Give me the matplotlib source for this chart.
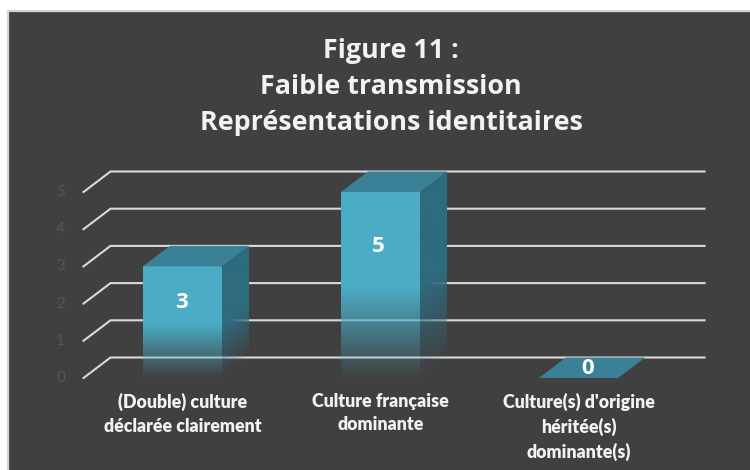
import matplotlib
matplotlib.use('Agg')
import matplotlib.pyplot as plt
import numpy as np
from matplotlib.colors import to_rgb
from matplotlib.patches import Polygon, Rectangle

categories = ["(Double) culture\ndéclarée clairement",
              "Culture française\ndominante",
              "Culture(s) d'origine\nhéritée(s)\ndominante(s)"]
values = [3, 5, 0]
yticks = [0, 1, 2, 3, 4, 5]
title_lines = ["Figure 11 :", "Faible transmission", "Représentations identitaires"]

W, H = 750, 470
BG = '#404040'
FRONT = '#4bacc6'
SIDE = '#2f6b7f'
TOP = '#3a8097'
GRID = '#d9d9d9'
bar_w = 0.4
dx = 27 / 198
dy = 20.5 / 37.2

fig = plt.figure(figsize=(W / 100, H / 100), dpi=100, facecolor='white')
fig.add_artist(Rectangle((8 / W, -0.01), 1, 1.01 - 11 / H, transform=fig.transFigure,
                         fc=BG, ec='#d4d4d4', lw=1.6, zorder=-1))

# axes also hold the depth offset, images get cut at the axes box otherwise
ax = fig.add_axes([83.5 / W, (H - 378) / H, 198 * 3.2 / W, 37.2 * 6 / H])
ax.axis('off')


def gradient_face(pts, color, fade, shear):
    # vertical fade to transparent at the base of the bar
    pts = np.array(pts, dtype=float)
    x0, x1 = pts[:, 0].min(), pts[:, 0].max()
    y0, y1 = pts[:, 1].min(), pts[:, 1].max()
    xx, yy = np.meshgrid(np.linspace(x0, x1, 60), np.linspace(y0, y1, 300))
    base = yy - shear * (xx - x0)
    img = np.zeros(xx.shape + (4,))
    img[..., :3] = to_rgb(color)
    img[..., 3] = np.clip(base / fade, 0, 1)
    im = ax.imshow(img, extent=(x0, x1, y0, y1), origin='lower', aspect='auto',
                   zorder=3, interpolation='bilinear')
    im.set_clip_path(Polygon(pts, transform=ax.transData))


# walls
for v in yticks:
    ax.plot([-0.5, -0.5 + dx, 2.5 + dx], [v, v + dy, v + dy], color=GRID, lw=1.5,
            clip_on=False, zorder=1, solid_joinstyle='miter')
    ax.text(-0.5 - 23 / 198, v, str(v), color='#565656', fontsize=11, family='Lato',
            ha='center', va='center')

# bars
for i, v in enumerate(values):
    l, r = i - bar_w / 2, i + bar_w / 2
    if v > 0:
        fade = v * 0.48
        gradient_face([(l, 0), (r, 0), (r, v), (l, v)], FRONT, fade, 0)
        gradient_face([(r, 0), (r + dx, dy), (r + dx, v + dy), (r, v)], SIDE, fade, dy / dx)
    ax.add_patch(Polygon([(l, v), (r, v), (r + dx, v + dy), (l + dx, v + dy)],
                         fc=TOP, ec='none', zorder=4, clip_on=False))
    ax.annotate(str(v), (i, 0), xytext=([-0.5, -2.5, 9.5][i] * 0.72, [75, 132, 9][i] * 0.72),
                textcoords='offset points', color='white', fontsize=16, family='Open Sans',
                fontweight='bold', ha='center', va='center', zorder=6, annotation_clip=False)
    ax.text(i, -15 / 223.2, categories[i], transform=ax.get_xaxis_transform(), color='#f2f2f2',
            fontsize=12.8, family='Lato', fontweight='heavy', ha='center', va='top',
            linespacing=1.46)

ax.set_xlim(-0.5, 2.7)
ax.set_ylim(0, 6)

for y, line in zip([51.5, 87.5, 123.5], title_lines):
    fig.text(391 / W, 1 - y / H, line, color='#f2f2f2', fontsize=19.4, family='Open Sans',
             fontweight='bold', ha='center', va='center')

plt.savefig('out.png', dpi=100, facecolor=fig.get_facecolor())
plt.close()
